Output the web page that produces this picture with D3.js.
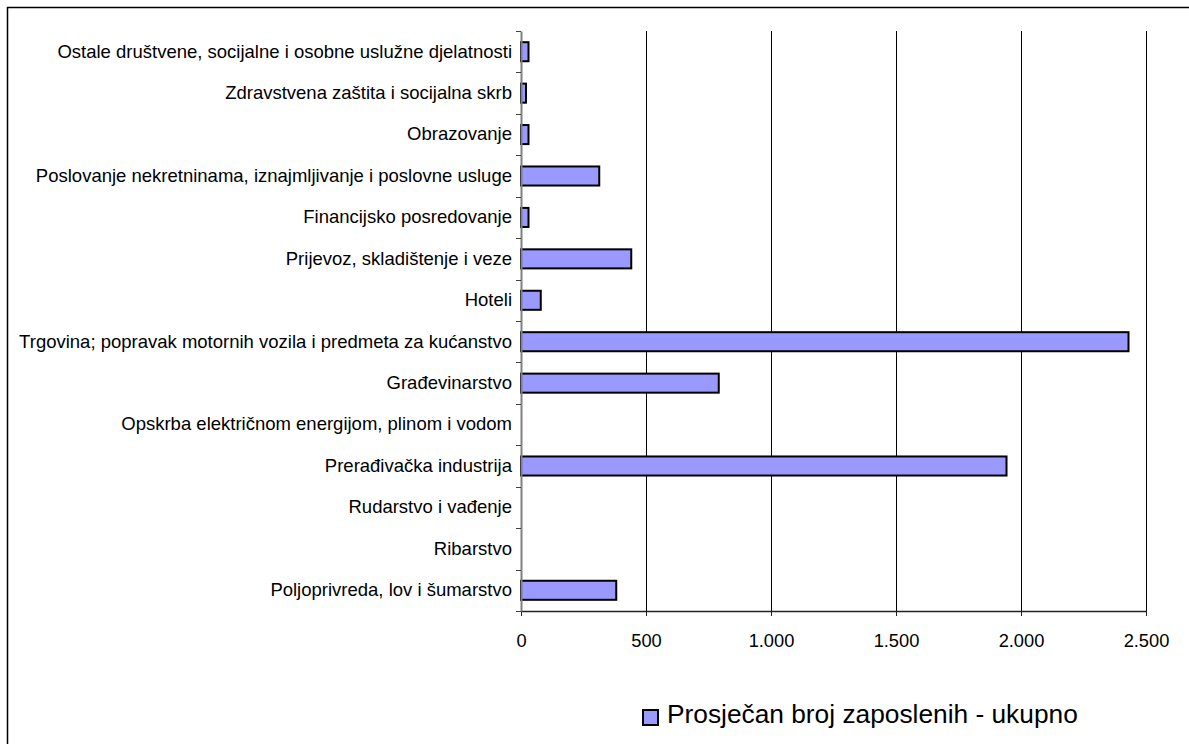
<html>
<head>
<meta charset="utf-8">
<script src="https://cdn.jsdelivr.net/npm/d3@7"></script>
<style>
  body { margin: 0; background: #fff; }
  svg { display: block; font-family: "Liberation Sans", Arial, sans-serif; }
  .grid line { stroke: #000; stroke-width: 1px; shape-rendering: crispEdges; }
</style>
</head>
<body>
<svg id="chart" width="1189" height="744"></svg>
<script>
// categories in source order (bottom to top in the chart)
var categories = [
  "Poljoprivreda, lov i šumarstvo",
  "Ribarstvo",
  "Rudarstvo i vađenje",
  "Prerađivačka industrija",
  "Opskrba električnom energijom, plinom i vodom",
  "Građevinarstvo",
  "Trgovina; popravak motornih vozila i predmeta za kućanstvo",
  "Hoteli",
  "Prijevoz, skladištenje i veze",
  "Financijsko posredovanje",
  "Poslovanje nekretninama, iznajmljivanje i poslovne usluge",
  "Obrazovanje",
  "Zdravstvena zaštita i socijalna skrb",
  "Ostale društvene, socijalne i osobne uslužne djelatnosti"
];
var values = [381, 0, 0, 1942, 0, 791, 2430, 79, 441, 30, 313, 30, 20, 30];
var xTicks = [0, 500, 1000, 1500, 2000, 2500];
var seriesName = "Prosječan broj zaposlenih - ukupno";

var svg = d3.select("#chart");
var pLeft = 521, pRight = 1146, pTop = 31, pBottom = 611;

// outer frame (cut off at right and bottom)
svg.append("rect")
  .attr("x", 7.5).attr("y", 7.5)
  .attr("width", 1300).attr("height", 900)
  .attr("fill", "none").attr("stroke", "#000").attr("stroke-width", 1.5);

var x = d3.scaleLinear().domain([0, 2500]).range([pLeft, pRight]);
var y = d3.scaleBand().domain(categories).range([pBottom, pTop])
  .paddingInner(0.54).paddingOuter(0.27);

var loc = d3.formatLocale({ decimal: ",", thousands: ".", grouping: [3], currency: ["", ""] });
var fmt = loc.format(",d");

var rows = categories.map(function(c, i){ return { name: c, value: values[i] }; });

// vertical gridlines
svg.append("g").attr("class", "grid")
  .selectAll("line").data(xTicks.slice(1)).enter()
  .append("line")
    .attr("x1", function(d){ return Math.round(x(d)) + 0.5; })
    .attr("x2", function(d){ return Math.round(x(d)) + 0.5; })
    .attr("y1", pTop).attr("y2", pBottom);

// bars
svg.append("g").selectAll("rect")
  .data(rows.filter(function(d){ return d.value > 0; })).enter()
  .append("rect")
    .attr("x", x(0))
    .attr("y", function(d){ return y(d.name); })
    .attr("width", function(d){ return x(d.value) - x(0); })
    .attr("height", y.bandwidth())
    .attr("fill", "#9999FF")
    .attr("stroke", "#000")
    .attr("stroke-width", 2);

// x axis
var xAxis = svg.append("g")
  .attr("transform", "translate(0," + pBottom + ")")
  .call(d3.axisBottom(x).tickValues(xTicks).tickFormat(fmt).tickSize(5).tickPadding(18).tickSizeOuter(0));
xAxis.select(".domain").attr("stroke", "#222").attr("stroke-width", 1.5);
xAxis.selectAll(".tick line").attr("stroke", "#222");
xAxis.selectAll("text").attr("font-size", 18.3).attr("fill", "#000")
  .attr("font-family", "Liberation Sans, Arial, sans-serif");

// y axis with labels at band centres
var yAxis = svg.append("g")
  .attr("transform", "translate(" + pLeft + ",0)")
  .call(d3.axisLeft(y).tickSize(0).tickPadding(9));
yAxis.select(".domain").attr("stroke", "#808080").attr("stroke-width", 2);
yAxis.selectAll("text").attr("font-size", 18.5).attr("fill", "#000")
  .attr("font-family", "Liberation Sans, Arial, sans-serif");

// y tick marks on band boundaries
var bounds = d3.range(categories.length + 1).map(function(i){ return pBottom - i * y.step(); });
svg.append("g").selectAll("line").data(bounds).enter()
  .append("line")
    .attr("x1", pLeft - 5).attr("x2", pLeft)
    .attr("y1", function(d){ return Math.round(d) + 0.5; })
    .attr("y2", function(d){ return Math.round(d) + 0.5; })
    .attr("stroke", "#444").attr("stroke-width", 1);

// legend
var lg = svg.append("g").attr("transform", "translate(643,710)");
lg.append("rect").attr("width", 15).attr("height", 15)
  .attr("fill", "#9999FF").attr("stroke", "#000").attr("stroke-width", 2);
lg.append("text").attr("x", 24).attr("y", 13)
  .attr("font-size", 26.3).attr("fill", "#000")
  .text(seriesName);
</script>
</body>
</html>
